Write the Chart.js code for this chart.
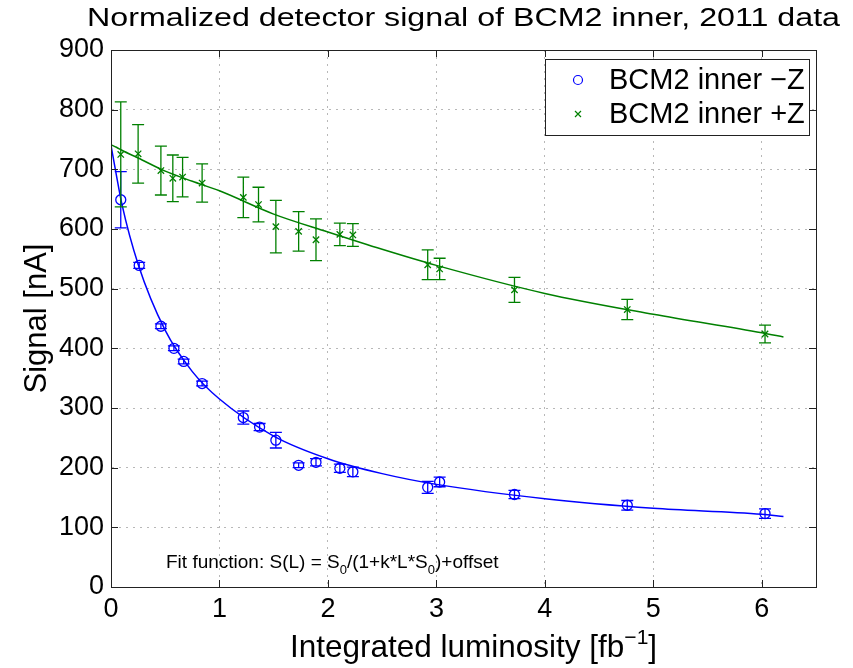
<!DOCTYPE html>
<html>
<head>
<meta charset="utf-8">
<script src="https://cdn.jsdelivr.net/npm/chart.js@4.4.1/dist/chart.umd.min.js"></script>
<style>
  html, body { margin: 0; padding: 0; background: #fff; }
</style>
</head>
<body>
<canvas id="chart" width="853" height="668"></canvas>
<script>
// values
const lumiMinusZ = [0.09, 0.26, 0.46, 0.58, 0.67, 0.84, 1.22, 1.37, 1.52, 1.73, 1.89, 2.11, 2.23, 2.92, 3.03, 3.72, 4.76, 6.03];
const signalMinusZ = [649, 539, 437, 400, 378, 341, 284, 268, 246, 204, 209, 199, 193, 167, 176, 155, 137, 123];
const errMinusZ = [47, 5, 4, 4, 4, 4, 11, 6, 13, 4, 6, 7, 8, 10, 8, 7, 8, 8];

const lumiPlusZ = [0.09, 0.25, 0.46, 0.57, 0.66, 0.84, 1.22, 1.36, 1.52, 1.73, 1.89, 2.11, 2.23, 2.92, 3.03, 3.72, 4.76, 6.03];
const signalPlusZ = [725, 726, 698, 685, 687, 677, 653, 641, 604, 596, 582, 591, 590, 540, 533, 498, 465, 424];
const errPlusZ = [88, 49, 41, 39, 33, 32, 34, 29, 44, 33, 35, 19, 19, 25, 18, 21, 17, 15];

// fit curves
const fitLumi = [0, 0.05, 0.1, 0.25, 0.5, 0.75, 1, 1.5, 2, 2.5, 3, 4, 5, 6, 6.2];
const fitMinusZ = [740, 690, 642, 541, 430, 361, 315, 253, 215, 190, 172, 148, 132, 122, 118];
const fitPlusZ = [741, 737, 732, 719, 697, 680, 664, 625, 595, 566, 539, 492, 457, 426, 419];

const xTicks = [0, 1, 2, 3, 4, 5, 6];
const yTicks = [0, 100, 200, 300, 400, 500, 600, 700, 800, 900];

const titleText = 'Normalized detector signal of BCM2 inner, 2011 data';
const legendLabels = ['BCM2 inner \u2212Z', 'BCM2 inner +Z'];
const FONT = '"Liberation Sans", Arial, Helvetica, sans-serif';
const BLUE = '#0000ff';
const GREEN = '#008000';

const pts = (xs, ys) => xs.map((v, i) => ({ x: v, y: ys[i] }));

const errorBars = {
    id: 'errorBars',
    afterDatasetsDraw(chart) {
        const { ctx, scales: { x, y } } = chart;
        chart.data.datasets.forEach((ds, i) => {
            if (!ds.errors) return;
            ctx.save();
            ctx.strokeStyle = ds.borderColor;
            ctx.lineWidth = 1.3;
            ctx.beginPath();
            ds.data.forEach((p, j) => {
                const px = x.getPixelForValue(p.x);
                const top = y.getPixelForValue(p.y + ds.errors[j]);
                const bot = y.getPixelForValue(p.y - ds.errors[j]);
                ctx.moveTo(px, top); ctx.lineTo(px, bot);
                ctx.moveTo(px - 6, top); ctx.lineTo(px + 6, top);
                ctx.moveTo(px - 6, bot); ctx.lineTo(px + 6, bot);
            });
            ctx.stroke();
            ctx.restore();
        });
    }
};

function drawSub(ctx, parts, x, y, size) {
    // parts: [text, 'sub'|'sup'|null]
    let cx = x;
    parts.forEach(([t, mode]) => {
        const s = mode ? Math.round(size * 0.68) : size;
        ctx.font = `${s}px ${FONT}`;
        const dy = mode === 'sub' ? size * 0.3 : mode === 'sup' ? -size * 0.42 : 0;
        ctx.fillText(t, cx, y + dy);
        cx += ctx.measureText(t).width;
    });
    return cx - x;
}

function measureParts(ctx, parts, size) {
    let w = 0;
    parts.forEach(([t, mode]) => {
        const s = mode ? Math.round(size * 0.68) : size;
        ctx.font = `${s}px ${FONT}`;
        w += ctx.measureText(t).width;
    });
    return w;
}

const decorations = {
    id: 'decorations',
    afterDraw(chart) {
        const { ctx, chartArea: a, scales: { x, y } } = chart;
        ctx.save();

        // frame with inward ticks
        ctx.strokeStyle = '#222';
        ctx.lineWidth = 1;
        ctx.strokeRect(a.left + 0.5, a.top + 0.5, a.right - a.left, a.bottom - a.top);
        ctx.beginPath();
        xTicks.forEach(v => {
            const px = Math.round(x.getPixelForValue(v)) + 0.5;
            ctx.moveTo(px, a.bottom); ctx.lineTo(px, a.bottom - 7);
            ctx.moveTo(px, a.top); ctx.lineTo(px, a.top + 7);
        });
        yTicks.forEach(v => {
            const py = Math.round(y.getPixelForValue(v)) + 0.5;
            ctx.moveTo(a.left, py); ctx.lineTo(a.left + 7, py);
            ctx.moveTo(a.right, py); ctx.lineTo(a.right - 7, py);
        });
        ctx.stroke();

        ctx.fillStyle = '#000';
        // main title, fitted to the original's width
        ctx.font = `26px ${FONT}`;
        ctx.textBaseline = 'alphabetic';
        const tw = ctx.measureText(titleText).width;
        ctx.save();
        ctx.translate((a.left + a.right) / 2, 26);
        ctx.scale(753 / tw, 1);
        ctx.textAlign = 'center';
        ctx.fillText(titleText, 0, 0);
        ctx.restore();

        // y axis title
        ctx.save();
        ctx.translate(46, (a.top + a.bottom) / 2);
        ctx.rotate(-Math.PI / 2);
        ctx.font = `31px ${FONT}`;
        ctx.textAlign = 'center';
        ctx.fillText('Signal [nA]', 0, 0);
        ctx.restore();

        // x axis title with superscript
        ctx.textAlign = 'left';
        const xParts = [['Integrated luminosity [fb', null], ['\u22121', 'sup'], [']', null]];
        const xw = measureParts(ctx, xParts, 31.5);
        drawSub(ctx, xParts, 473.5 - xw / 2, 657, 31.5);

        // fit function note
        const fParts = [['Fit function: S(L) = S', null], ['0', 'sub'], ['/(1+k*L*S', null], ['0', 'sub'], [')+offset', null]];
        drawSub(ctx, fParts, a.left + 55, 568, 19);

        // legend box
        const bw = 264, bh = 76;
        const bx = a.right - 7 - bw, by = a.top + 9;
        ctx.fillStyle = '#fff';
        ctx.fillRect(bx, by, bw, bh);
        ctx.strokeStyle = '#222';
        ctx.strokeRect(bx + 0.5, by + 0.5, bw, bh);
        const rows = [by + 21, by + 55];
        ctx.lineWidth = 1.2;
        ctx.strokeStyle = BLUE;
        ctx.beginPath();
        ctx.arc(bx + 33, rows[0], 4.5, 0, Math.PI * 2);
        ctx.stroke();
        ctx.strokeStyle = GREEN;
        ctx.beginPath();
        ctx.moveTo(bx + 30, rows[1] - 3); ctx.lineTo(bx + 36, rows[1] + 3);
        ctx.moveTo(bx + 30, rows[1] + 3); ctx.lineTo(bx + 36, rows[1] - 3);
        ctx.stroke();
        ctx.fillStyle = '#000';
        ctx.font = `29px ${FONT}`;
        ctx.textBaseline = 'middle';
        legendLabels.forEach((t, i) => ctx.fillText(t, bx + 64, rows[i] + 1));

        ctx.restore();
    }
};

new Chart(document.getElementById('chart'), {
    data: {
        datasets: [
            {
                type: 'scatter',
                label: legendLabels[0],
                data: pts(lumiMinusZ, signalMinusZ),
                errors: errMinusZ,
                borderColor: BLUE,
                backgroundColor: 'rgba(0,0,0,0)',
                pointStyle: 'circle',
                pointRadius: 5,
                pointBorderWidth: 1.3
            },
            {
                type: 'scatter',
                label: legendLabels[1],
                data: pts(lumiPlusZ, signalPlusZ),
                errors: errPlusZ,
                borderColor: GREEN,
                backgroundColor: GREEN,
                pointStyle: 'crossRot',
                pointRadius: 4.5,
                pointBorderWidth: 1.3
            },
            {
                type: 'line',
                label: 'fit -Z',
                data: pts(fitLumi, fitMinusZ),
                borderColor: BLUE,
                borderWidth: 1.5,
                pointRadius: 0,
                cubicInterpolationMode: 'monotone',
                fill: false
            },
            {
                type: 'line',
                label: 'fit +Z',
                data: pts(fitLumi, fitPlusZ),
                borderColor: GREEN,
                borderWidth: 1.5,
                pointRadius: 0,
                cubicInterpolationMode: 'monotone',
                fill: false
            }
        ]
    },
    options: {
        responsive: false,
        devicePixelRatio: 1,
        animation: false,
        layout: { padding: { left: 0, right: 37, top: 50, bottom: 0 } },
        plugins: {
            legend: { display: false },
            tooltip: { enabled: false },
            title: { display: false }
        },
        scales: {
            x: {
                type: 'linear',
                min: 0,
                max: 6.5,
                ticks: {
                    stepSize: 1,
                    includeBounds: false,
                    color: '#000',
                    padding: 6,
                    maxRotation: 0,
                    font: { size: 27, family: FONT }
                },
                grid: { color: '#b8b8b8', lineWidth: 1, drawTicks: false },
                border: { color: '#222', dash: [2, 5] },
                afterFit(s) { s.height = 81; }
            },
            y: {
                type: 'linear',
                min: 0,
                max: 900,
                ticks: {
                    stepSize: 100,
                    color: '#000',
                    padding: 7,
                    font: { size: 27, family: FONT }
                },
                grid: { color: '#b8b8b8', lineWidth: 1, drawTicks: false },
                border: { color: '#222', dash: [2, 5] },
                afterFit(s) { s.width = 111; }
            }
        }
    },
    plugins: [errorBars, decorations]
});
</script>
</body>
</html>
